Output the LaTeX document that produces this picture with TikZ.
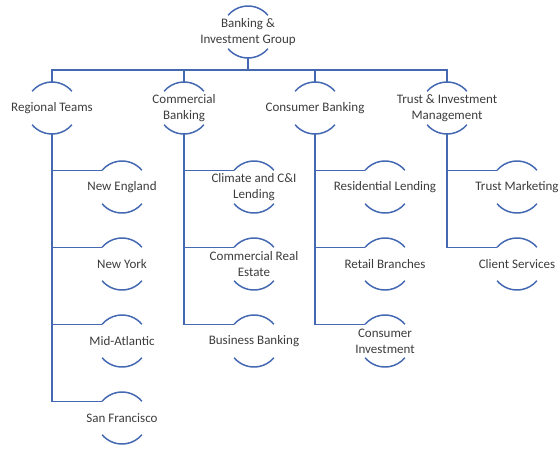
\documentclass[tikz,border=0pt]{standalone}
\usepackage{fontspec}
\setmainfont{Carlito}
\definecolor{linkblue}{RGB}{68,105,178}
\definecolor{txtgray}{RGB}{60,60,60}
\tikzset{
  unit/.style={circle,minimum size=52pt,inner sep=0pt,outer sep=0pt},
  txt/.style={text=txtgray,align=center,font=\fontsize{13}{16}\selectfont,inner sep=0pt},
  link/.style={draw=linkblue,line width=1.5pt}
}

\begin{document}
\begin{tikzpicture}[x=1pt,y=1pt]
  \useasboundingbox (0,0) rectangle (560,-448);
  \node[unit,label={[txt]center:Banking \&\\Investment Group}] (root) at (248,-32) {};
  \node[unit,label={[txt]center:Regional Teams}] (reg) at (52,-108) {};
  \node[unit,label={[txt]center:Commercial\\Banking}] (com) at (184,-108) {};
  \node[unit,label={[txt]center:Consumer Banking}] (con) at (315,-108) {};
  \node[unit,label={[txt]center:Trust \& Investment\\Management}] (tru) at (447,-108) {};
  \node[unit,label={[txt]center:New England}] (ne) at (122,-187) {};
  \node[unit,label={[txt]center:New York}] (ny) at (122,-264) {};
  \node[unit,label={[txt]center:Mid-Atlantic}] (ma) at (122,-341) {};
  \node[unit,label={[txt]center:San Francisco}] (sf) at (122,-418) {};
  \node[unit,label={[txt]center:Climate and C\&I\\Lending}] (cli) at (254,-187) {};
  \node[unit,label={[txt]center:Commercial Real\\Estate}] (cre) at (254,-264) {};
  \node[unit,label={[txt]center:Business Banking}] (bus) at (254,-341) {};
  \node[unit,label={[txt]center:Residential Lending}] (res) at (385,-187) {};
  \node[unit,label={[txt]center:Retail Branches}] (ret) at (385,-264) {};
  \node[unit,label={[txt]center:Consumer\\Investment}] (inv) at (385,-341) {};
  \node[unit,label={[txt]center:Trust Marketing}] (tm) at (517,-187) {};
  \node[unit,label={[txt]center:Client Services}] (cs) at (517,-264) {};
  \foreach \n in {root,reg,com,con,tru,ne,ny,ma,sf,cli,cre,bus,res,ret,inv,tm,cs} {
    \draw[link] (\n.40) arc[start angle=40,end angle=140,radius=26pt];
    \draw[link] (\n.220) arc[start angle=220,end angle=320,radius=26pt];
  }
  \draw[link] (root.south) -- ++(0,-12) coordinate (bar);
  \draw[link] (reg.north) |- (bar) -| (tru.north);
  \draw[link] (com.north) -- (com.north |- bar);
  \draw[link] (con.north) -- (con.north |- bar);
  \foreach \n in {ne,ny,ma,sf} \draw[link] (reg.south) |- (\n.140);
  \foreach \n in {cli,cre,bus} \draw[link] (com.south) |- (\n.140);
  \foreach \n in {res,ret,inv} \draw[link] (con.south) |- (\n.140);
  \foreach \n in {tm,cs} \draw[link] (tru.south) |- (\n.140);
\end{tikzpicture}
\end{document}
